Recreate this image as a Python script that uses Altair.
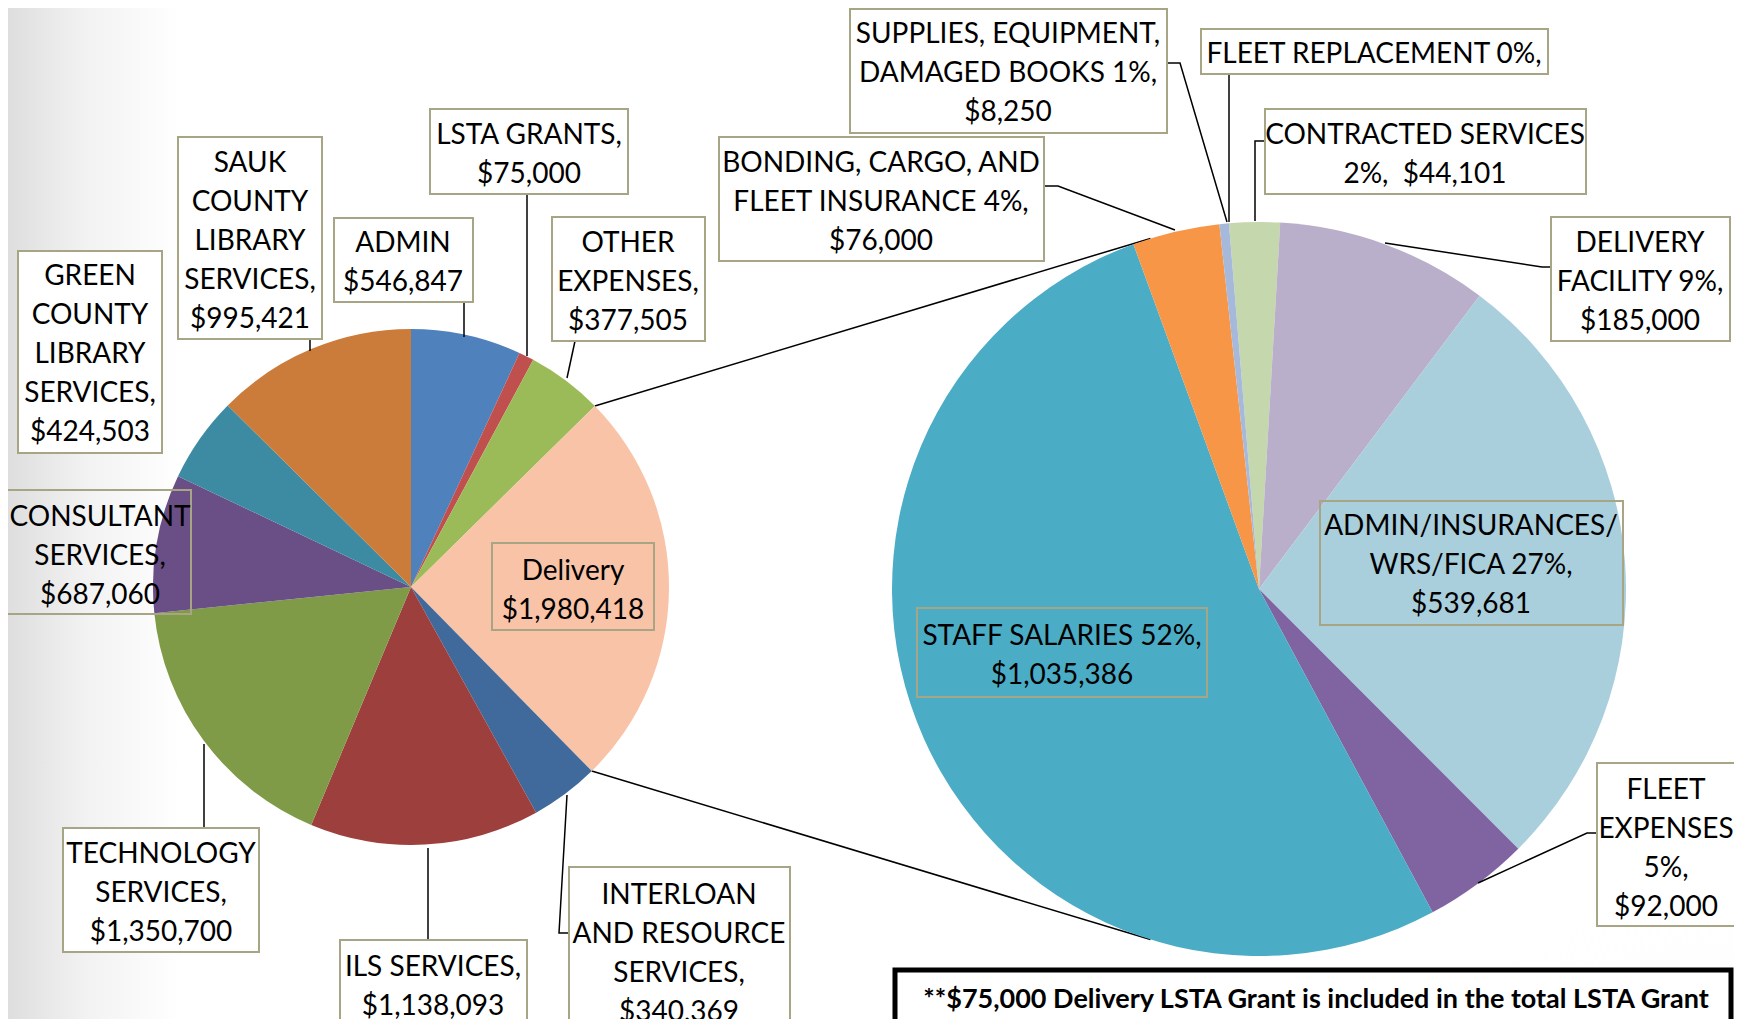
import math
import altair as alt
import pandas as pd

# ---------------- data ----------------
left_categories = ["ADMIN", "LSTA GRANTS", "OTHER EXPENSES", "Delivery",
                   "INTERLOAN AND RESOURCE SERVICES", "ILS SERVICES",
                   "TECHNOLOGY SERVICES", "CONSULTANT SERVICES",
                   "GREEN COUNTY LIBRARY SERVICES", "SAUK COUNTY LIBRARY SERVICES"]
left_values = [546847, 75000, 377505, 1980418, 340369, 1138093, 1350700, 687060, 424503, 995421]
left_labels = ["ADMIN\n$546,847", "LSTA GRANTS,\n$75,000", "OTHER\nEXPENSES,\n$377,505",
               "Delivery\n$1,980,418", "INTERLOAN\nAND RESOURCE\nSERVICES,\n$340,369",
               "ILS SERVICES,\n$1,138,093", "TECHNOLOGY\nSERVICES,\n$1,350,700",
               "CONSULTANT\nSERVICES,\n$687,060", "GREEN\nCOUNTY\nLIBRARY\nSERVICES,\n$424,503",
               "SAUK\nCOUNTY\nLIBRARY\nSERVICES,\n$995,421"]

right_categories = ["CONTRACTED SERVICES", "DELIVERY FACILITY", "ADMIN/INSURANCES/WRS/FICA",
                    "FLEET EXPENSES", "STAFF SALARIES", "BONDING, CARGO, AND FLEET INSURANCE",
                    "SUPPLIES, EQUIPMENT, DAMAGED BOOKS", "FLEET REPLACEMENT"]
right_values = [44101, 185000, 539681, 92000, 1035386, 76000, 8250, 0]
right_labels = ["CONTRACTED SERVICES\n2%,\u00a0 $44,101", "DELIVERY\nFACILITY 9%,\n$185,000",
                "ADMIN/INSURANCES/\nWRS/FICA 27%,\n$539,681", "FLEET\nEXPENSES\n5%,\n$92,000",
                "STAFF SALARIES 52%,\n$1,035,386", "BONDING, CARGO, AND\nFLEET INSURANCE 4%,\n$76,000",
                "SUPPLIES, EQUIPMENT,\nDAMAGED BOOKS 1%,\n$8,250", "FLEET REPLACEMENT 0%,"]

note_lines = ["**$75,000 Delivery LSTA Grant is included in the total LSTA Grant",
              "Expenses (left) but is not included here: $2,055,418. Fleet"]

# ---------------- styles ----------------
left_colors = ["#4F81BD", "#C0504D", "#9BBB59", "#F9C3A8", "#3F6A9B", "#9D3F3D",
               "#7F9B47", "#6A4F86", "#3C8BA3", "#CB7B3A"]
right_colors = ["#C5D7AD", "#B9AFCA", "#A9CEDC", "#8064A2", "#4BACC6", "#F79646",
                "#A7B9DB", "#C0C0C0"]
BORDER = "#A8A585"
FONT = "Lato"
FS = 28
LH = 39
TEXT_SHIFT = 3

# ---------------- layout (page pixel coordinates) ----------------
W, H = 1726, 1011
OFF = 8
LEFT_C, LEFT_R = (411, 587), 258
RIGHT_C, RIGHT_R = (1259, 589), 367
RIGHT_START = math.radians(-4.7)
RIGHT_LINK_ANGLES = (math.radians(342.8), math.radians(197.2))

# box: x1, y1, x2, y2, text-x, text-centre-y, filled
layout = {
    "GREEN COUNTY LIBRARY SERVICES": (18, 251, 162, 453, 90, 352, True),
    "SAUK COUNTY LIBRARY SERVICES": (178, 137, 322, 339, 250, 239, True),
    "ADMIN": (334, 218, 473, 302, 403, 260, True),
    "LSTA GRANTS": (430, 109, 628, 194, 529, 152, True),
    "OTHER EXPENSES": (552, 217, 705, 341, 628, 280, True),
    "Delivery": (492, 543, 654, 630, 573, 588, False),
    "INTERLOAN AND RESOURCE SERVICES": (569, 867, 790, 1060, 679, 951, True),
    "ILS SERVICES": (340, 940, 527, 1060, 433, 984, True),
    "TECHNOLOGY SERVICES": (63, 828, 259, 952, 161, 891, True),
    "CONSULTANT SERVICES": (3, 490, 191, 614, 100, 554, False),
    "SUPPLIES, EQUIPMENT, DAMAGED BOOKS": (850, 9, 1167, 133, 1008, 71, True),
    "FLEET REPLACEMENT": (1201, 29, 1548, 74, 1374, 52, True),
    "CONTRACTED SERVICES": (1265, 109, 1586, 194, 1425, 152, True),
    "BONDING, CARGO, AND FLEET INSURANCE": (719, 137, 1044, 261, 881, 200, True),
    "DELIVERY FACILITY": (1551, 217, 1730, 341, 1640, 280, True),
    "ADMIN/INSURANCES/WRS/FICA": (1320, 501, 1623, 625, 1471, 563, False),
    "STAFF SALARIES": (917, 608, 1207, 697, 1062, 653, False),
    "FLEET EXPENSES": (1597, 763, 1750, 926, 1666, 846, True),
}

leaders = {
    "SAUK COUNTY LIBRARY SERVICES": [(310, 339), (310, 351)],
    "ADMIN": [(464, 302), (464, 337)],
    "LSTA GRANTS": [(527, 194), (527, 356)],
    "OTHER EXPENSES": [(575, 341), (567, 378)],
    "INTERLOAN AND RESOURCE SERVICES": [(567, 795), (559, 933), (569, 933)],
    "ILS SERVICES": [(428, 848), (428, 940)],
    "TECHNOLOGY SERVICES": [(204, 744), (204, 828)],
    "SUPPLIES, EQUIPMENT, DAMAGED BOOKS": [(1167, 63), (1180, 63), (1227, 222)],
    "FLEET REPLACEMENT": [(1229, 74), (1229, 222)],
    "CONTRACTED SERVICES": [(1265, 141), (1255, 141), (1255, 221)],
    "BONDING, CARGO, AND FLEET INSURANCE": [(1044, 186), (1058, 186), (1175, 230)],
    "DELIVERY FACILITY": [(1551, 267), (1542, 267), (1385, 243)],
    "FLEET EXPENSES": [(1597, 833), (1587, 833), (1478, 883)],
}

NOTE_BOX = (895, 970, 1731, 1075)
NOTE_TX = 1316
NOTE_Y = [1000, 1039]

# ---------------- build tables ----------------
xs = alt.Scale(domain=[OFF, OFF + W])
ys = alt.Scale(domain=[OFF, OFF + H], reverse=True)

all_cats = left_categories + right_categories
all_labels = left_labels + right_labels
rows = []
for c, lab in zip(all_cats, all_labels):
    x1, y1, x2, y2, tx, ty, filled = layout[c]
    n = lab.count("\n") + 1
    rows.append(dict(cat=c, label=lab, x1=x1, y1=y1, x2=x2, y2=y2, tx=tx,
                     ty=ty - (n - 1) * LH / 2 + TEXT_SHIFT, filled=filled))
box_df = pd.DataFrame(rows)

lead_rows = []
for c, pts in leaders.items():
    for i, (px, py) in enumerate(pts):
        lead_rows.append(dict(cat=c, seq=i, x=px, y=py))
lead_df = pd.DataFrame(lead_rows)

# connector lines derived from the Delivery slice angles
total_left = sum(left_values)
di = left_categories.index("Delivery")
a0 = 2 * math.pi * sum(left_values[:di]) / total_left
a1 = a0 + 2 * math.pi * left_values[di] / total_left
conn = []
for a, b in zip((a0, a1), RIGHT_LINK_ANGLES):
    conn.append(dict(
        x=LEFT_C[0] + LEFT_R * math.sin(a), y=LEFT_C[1] - LEFT_R * math.cos(a),
        x2=RIGHT_C[0] + RIGHT_R * math.sin(b), y2=RIGHT_C[1] - RIGHT_R * math.cos(b)))
conn_df = pd.DataFrame(conn)

left_df = pd.DataFrame({"cat": left_categories, "value": left_values,
                        "idx": list(range(len(left_values)))})
right_df = pd.DataFrame({"cat": right_categories, "value": right_values,
                         "idx": list(range(len(right_values)))})

# ---------------- layers ----------------
one = pd.DataFrame({"a": [0]})
bg = alt.Chart(one).mark_rect(
    color=alt.LinearGradient(
        gradient="linear", x1=0, y1=0, x2=1, y2=0,
        stops=[alt.GradientStop(color="#DEDEDE", offset=0),
               alt.GradientStop(color="#F2F2F2", offset=0.045),
               alt.GradientStop(color="#FFFFFF", offset=0.1),
               alt.GradientStop(color="#FFFFFF", offset=1)])
).encode(x=alt.value(0), x2=alt.value(W), y=alt.value(0), y2=alt.value(H))

bg2 = alt.Chart(one).mark_rect(
    color=alt.RadialGradient(
        gradient="radial", x1=1, y1=1, r1=0, x2=1, y2=1, r2=0.3,
        stops=[alt.GradientStop(color="rgba(225,225,225,1)", offset=0),
               alt.GradientStop(color="rgba(255,255,255,0)", offset=1)])
).encode(x=alt.value(0), x2=alt.value(W), y=alt.value(0), y2=alt.value(H))

connectors = alt.Chart(conn_df).mark_rule(color="black", strokeWidth=1.5).encode(
    x=alt.X("x:Q", scale=xs, axis=None), y=alt.Y("y:Q", scale=ys, axis=None),
    x2="x2:Q", y2="y2:Q")

left_pie = alt.Chart(left_df).mark_arc(outerRadius=LEFT_R).encode(
    theta=alt.Theta("value:Q", stack=True, scale=alt.Scale(range=[0, 2 * math.pi])),
    color=alt.Color("cat:N", scale=alt.Scale(domain=left_categories, range=left_colors), legend=None),
    order=alt.Order("idx:Q"),
    x=alt.value(LEFT_C[0] - OFF), y=alt.value(LEFT_C[1] - OFF))

right_pie = alt.Chart(right_df).mark_arc(outerRadius=RIGHT_R).encode(
    theta=alt.Theta("value:Q", stack=True,
                    scale=alt.Scale(range=[RIGHT_START, RIGHT_START + 2 * math.pi])),
    color=alt.Color("cat:N", scale=alt.Scale(domain=right_categories, range=right_colors), legend=None),
    order=alt.Order("idx:Q"),
    x=alt.value(RIGHT_C[0] - OFF), y=alt.value(RIGHT_C[1] - OFF))

leader_lines = alt.Chart(lead_df).mark_line(color="black", strokeWidth=1.5).encode(
    x=alt.X("x:Q", scale=xs, axis=None), y=alt.Y("y:Q", scale=ys, axis=None),
    detail="cat:N", order="seq:Q")

boxes_filled = alt.Chart(box_df).transform_filter("datum.filled").mark_rect(
    fill="white", stroke=BORDER, strokeWidth=2, clip=True).encode(
    x=alt.X("x1:Q", scale=xs, axis=None), x2="x2:Q",
    y=alt.Y("y1:Q", scale=ys, axis=None), y2="y2:Q")

boxes_open = alt.Chart(box_df).transform_filter("!datum.filled").mark_rect(
    fillOpacity=0, stroke=BORDER, strokeWidth=2, clip=True).encode(
    x=alt.X("x1:Q", scale=xs, axis=None), x2="x2:Q",
    y=alt.Y("y1:Q", scale=ys, axis=None), y2="y2:Q")

texts = alt.Chart(box_df).mark_text(
    font=FONT, fontSize=FS, lineHeight=LH, align="center", baseline="middle",
    lineBreak="\n", color="black", clip=True).encode(
    x=alt.X("tx:Q", scale=xs, axis=None), y=alt.Y("ty:Q", scale=ys, axis=None),
    text="label:N")

note_df = pd.DataFrame({"x1": [NOTE_BOX[0]], "y1": [NOTE_BOX[1]],
                        "x2": [NOTE_BOX[2]], "y2": [NOTE_BOX[3]]})
note_box = alt.Chart(note_df).mark_rect(
    fill="white", stroke="black", strokeWidth=5, clip=True).encode(
    x=alt.X("x1:Q", scale=xs, axis=None), x2="x2:Q",
    y=alt.Y("y1:Q", scale=ys, axis=None), y2="y2:Q")

note_txt_df = pd.DataFrame({"t": note_lines, "x": [NOTE_TX] * len(note_lines), "y": NOTE_Y})
note_text = alt.Chart(note_txt_df).mark_text(
    font=FONT, fontSize=27, fontWeight="bold", align="center", baseline="middle",
    color="black", clip=True).encode(
    x=alt.X("x:Q", scale=xs, axis=None), y=alt.Y("y:Q", scale=ys, axis=None), text="t:N")

chart = alt.layer(
    bg, bg2, connectors, left_pie, right_pie, leader_lines, boxes_filled, boxes_open,
    texts, note_box, note_text
).resolve_scale(theta="independent", color="independent").properties(
    width=W, height=H, padding=0, autosize=alt.AutoSizeParams(type="none")
).configure_view(stroke=None)

chart.save("out.html", embed_options={"renderer": "svg", "actions": False})
